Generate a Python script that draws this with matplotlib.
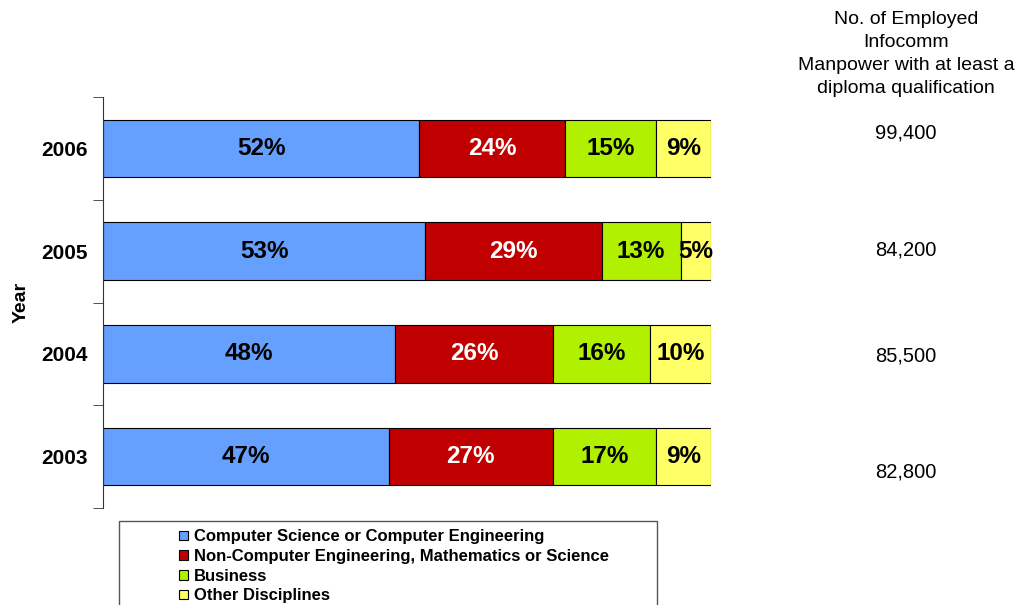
import numpy as np
import matplotlib
matplotlib.use("Agg")
import matplotlib.pyplot as plt
from matplotlib.patches import Patch, Rectangle

plt.rcParams['font.family'] = ['Liberation Sans', 'DejaVu Sans']

# data
years = ['2003', '2004', '2005', '2006']
cs_eng = [47, 48, 53, 52]
non_cs = [27, 26, 29, 24]
business = [17, 16, 13, 15]
other = [9, 10, 5, 9]
manpower = ['82,800', '85,500', '84,200', '99,400']

series = [cs_eng, non_cs, business, other]
names = ['Computer Science or Computer Engineering',
         'Non-Computer Engineering, Mathematics or Science',
         'Business',
         'Other Disciplines']
colors = ['#66A0FF', '#C00000', '#B0F000', '#FFFF66']
text_cols = ['black', 'white', 'black', 'black']

W, H = 1018, 605
fig = plt.figure(figsize=(W / 100, H / 100), dpi=100)
ax = fig.add_axes([103 / W, 1 - 508 / H, (711 - 103) / W, (508 - 97) / H])

y = np.arange(len(years))
left = np.zeros(len(years))
for vals, nm, c, tc in zip(series, names, colors, text_cols):
    v = np.array(vals) / 100.0
    bars = ax.barh(y, v, left=left, height=0.56, color=c, edgecolor='black',
                   linewidth=0.8, label=nm)
    for b, val in zip(bars, vals):
        ax.text(b.get_x() + b.get_width() / 2, b.get_y() + b.get_height() / 2,
                '%d%%' % val, ha='center', va='center', fontsize=17.5,
                fontweight='bold', color=tc)
    left = left + v

ax.set_xlim(0, 1)
ax.set_ylim(-0.5, 3.5)
ax.set_yticks(y)
ax.set_yticklabels(years, fontsize=15, fontweight='bold')
ax.set_yticks(np.arange(-0.5, 4.0, 1.0), minor=True)
ax.tick_params(axis='y', which='major', length=0, pad=11)
ax.tick_params(axis='y', which='minor', length=7, direction='out', color='#333333')
ax.set_xticks([])
for s in ['top', 'right', 'bottom']:
    ax.spines[s].set_visible(False)
ax.spines['left'].set_color('#333333')
ax.set_ylabel('Year', fontsize=14, fontweight='bold', labelpad=8)

# right-hand column
fig.text(906 / W, 1 - 54 / H, 'No. of Employed\nInfocomm\nManpower with at least a\ndiploma qualification',
         ha='center', va='center', fontsize=14, linespacing=1.47)
offsets = [-0.15, -0.02, 0.01, 0.15]
for yi, txt, off in zip(y, manpower, offsets):
    ax.text(1.32, yi + off, txt, ha='center', va='center', fontsize=14.5,
            transform=ax.get_yaxis_transform(), clip_on=False)

# legend
frame = Rectangle((119 / W, -0.05), (657 - 119) / W, 1 - 521 / H + 0.05,
                  transform=fig.transFigure, facecolor='white',
                  edgecolor='#555555', linewidth=1.0)
fig.patches.append(frame)
handles = [Patch(facecolor=c, edgecolor='black', linewidth=0.8) for c in colors]
fig.legend(handles, names, loc='upper left', bbox_to_anchor=(176 / W, 1 - 526 / H),
           frameon=False, prop={'size': 12, 'weight': 'bold'},
           handlelength=0.5, handleheight=0.5, handletextpad=0.35,
           labelspacing=0.28, borderpad=0.2, borderaxespad=0)

fig.savefig('out.png', dpi=100)
